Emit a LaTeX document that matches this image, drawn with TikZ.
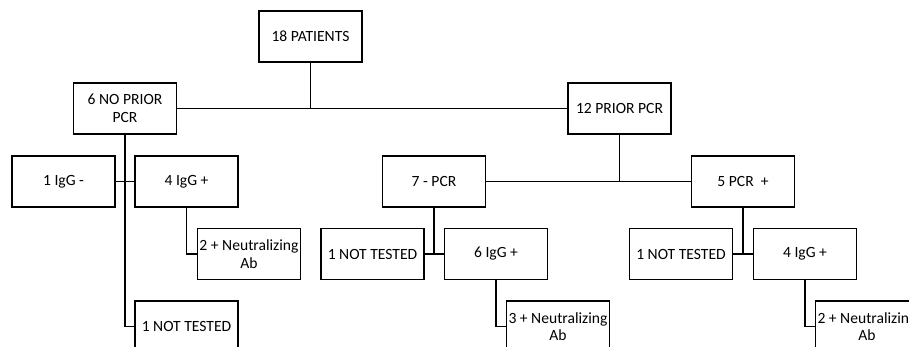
\documentclass[tikz,border=0pt]{standalone}
\usepackage{fontspec}
\setmainfont{Carlito}
\begin{document}
\begin{tikzpicture}[x=0.75pt,y=-0.75pt,
  box/.style={draw, line width=0.8pt, minimum width=77.25pt, minimum height=38.25pt, inner sep=0.5pt, align=center, font=\fontsize{11.7}{13.1}\selectfont},
  conn/.style={line width=0.9pt}]
\useasboundingbox (0,0) rectangle (909,346);
\clip (0,0) rectangle (909,346);
\node[box] (pat) at (310.5,36.5) {18 PATIENTS};
\node[box] (nop) at (125,108.5) {6 NO PRIOR\\PCR};
\node[box] (pri) at (619.5,108.5) {12 PRIOR PCR};
\node[box] (igm) at (63.5,181.5) {1 IgG -};
\node[box] (igp1) at (186.5,181.5) {4 IgG +};
\node[box] (neu1) at (249,254) {2 + Neutralizing\\Ab};
\node[box] (nt1) at (186.5,326.5) {1 NOT TESTED};
\node[box] (pcrm) at (434,181.5) {7 - PCR};
\node[box] (pcrp) at (743,181.5) {5 PCR~~+};
\node[box] (nt2) at (372.5,254) {1 NOT TESTED};
\node[box] (igp2) at (496,254) {6 IgG +};
\node[box] (neu2) at (558,326.5) {3 + Neutralizing\\Ab};
\node[box] (nt3) at (681,254) {1 NOT TESTED};
\node[box] (igp3) at (805,254) {4 IgG +};
\node[box] (neu3) at (867,326.5) {2 + Neutralizing\\Ab};
\draw[conn] (nop.east) -- (pri.west);
\draw[conn] (pat.south) -- (pat.south |- nop.east);
\draw[conn] (nop.south) |- (nt1.west);
\draw[conn] (igm.east) -- (igp1.west);
\draw[conn] (igp1.south) |- (neu1.west);
\draw[conn] (pcrm.east) -- (pcrp.west);
\draw[conn] (pri.south) -- (pri.south |- pcrm.east);
\draw[conn] (nt2.east) -- (igp2.west);
\draw[conn] (pcrm.south) -- (pcrm.south |- nt2.east);
\draw[conn] (igp2.south) |- (neu2.west);
\draw[conn] (nt3.east) -- (igp3.west);
\draw[conn] (pcrp.south) -- (pcrp.south |- nt3.east);
\draw[conn] (igp3.south) |- (neu3.west);
\end{tikzpicture}
\end{document}
